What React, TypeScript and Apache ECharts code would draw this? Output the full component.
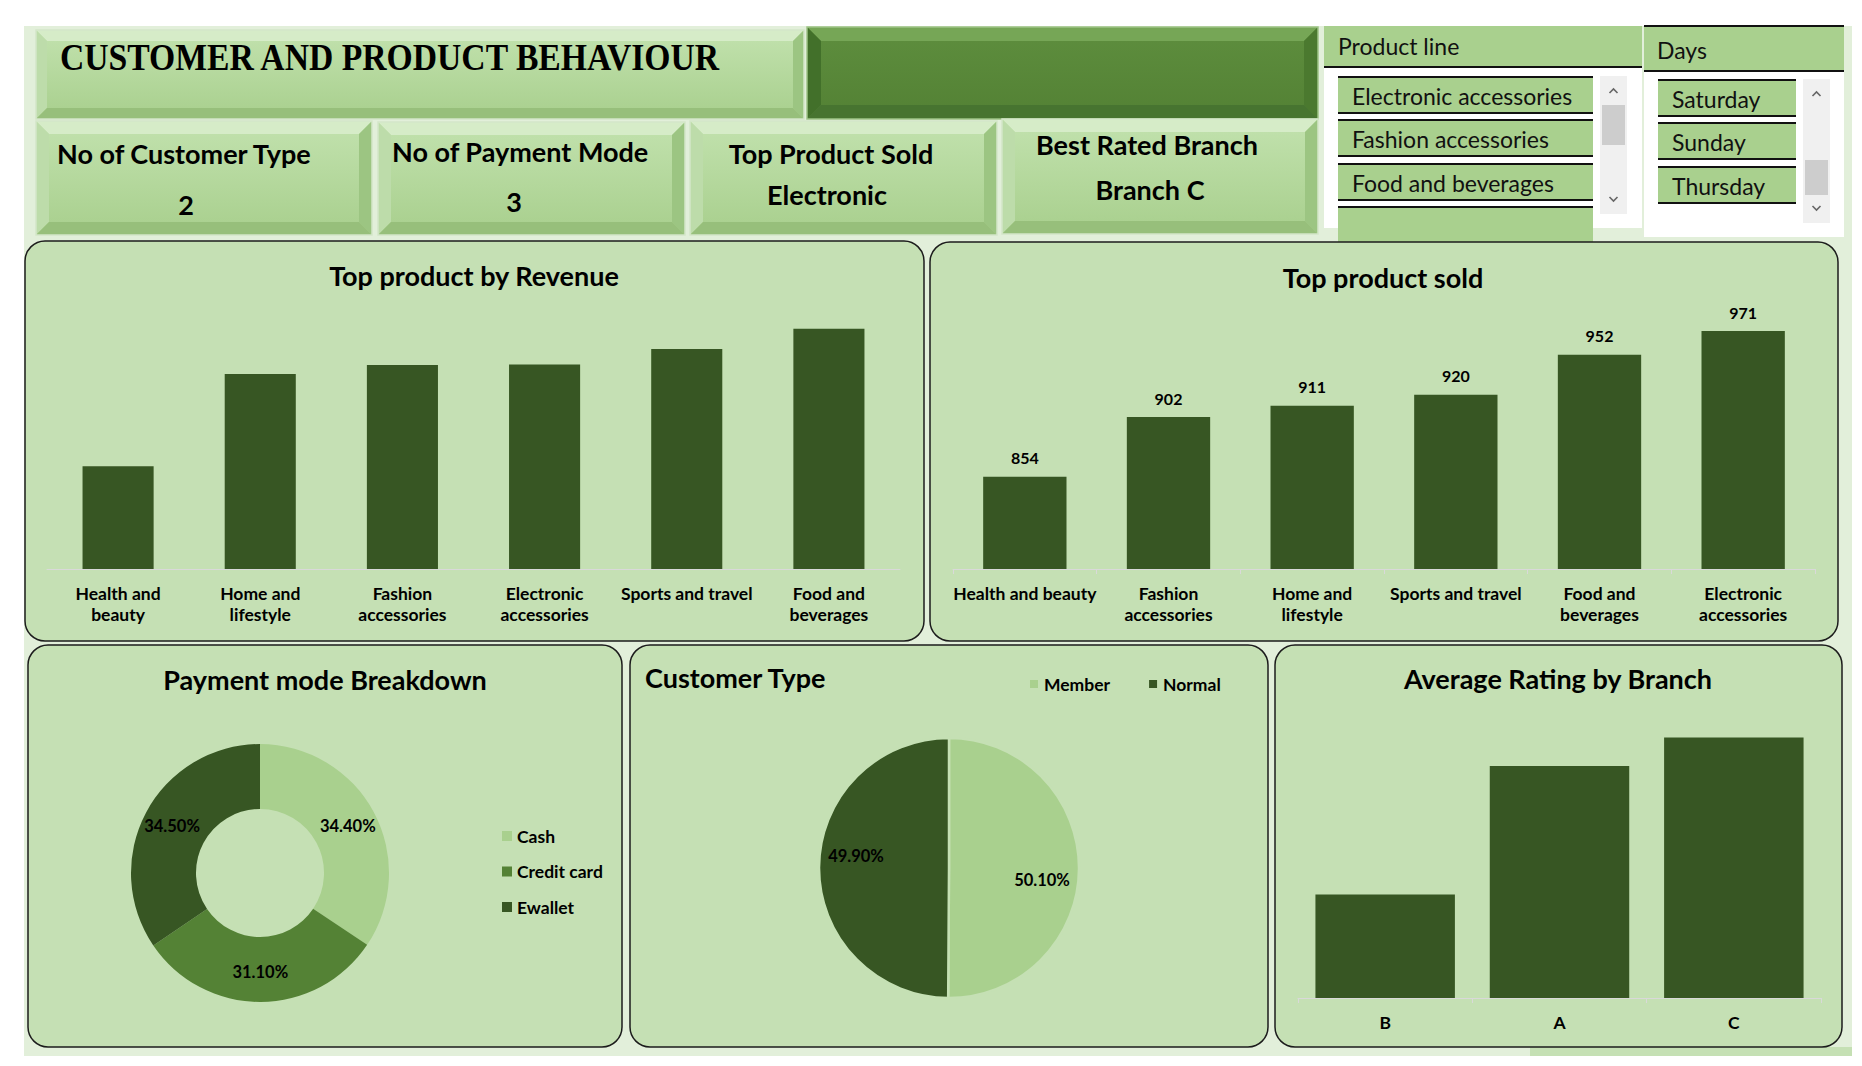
import React, { useEffect, useRef } from 'react';
import * as echarts from 'echarts';

// ---------- data ----------
const revenueCategories = ['Health and beauty', 'Home and lifestyle', 'Fashion accessories', 'Electronic accessories', 'Sports and travel', 'Food and beverages'];
const revenueValues = [49193.74, 53861.91, 54305.9, 54337.53, 55122.83, 56144.84];

const soldCategories = ['Health and beauty', 'Fashion accessories', 'Home and lifestyle', 'Sports and travel', 'Food and beverages', 'Electronic accessories'];
const soldValues = [854, 902, 911, 920, 952, 971];

const paymentNames = ['Cash', 'Credit card', 'Ewallet'];
const paymentValues = [34.4, 31.1, 34.5];

const customerNames = ['Member', 'Normal'];
const customerValues = [50.1, 49.9];

const branchCategories = ['B', 'A', 'C'];
const branchValues = [6.818, 7.027, 7.073];

const productLineItems = ['Electronic accessories', 'Fashion accessories', 'Food and beverages', ''];
const dayItems = ['Saturday', 'Sunday', 'Thursday'];

const kpiTitles = ['No of Customer Type', 'No of Payment Mode', 'Top Product Sold', 'Best Rated Branch'];
const kpiValues = ['2', '3', 'Electronic', 'Branch C'];

// ---------- styles ----------
const FONT = 'Lato, "Open Sans", sans-serif';
const DARK = '#375623';
const MID = '#548235';
const LIGHT = '#a9d08e';
const PANEL = '#c5e0b4';
const PALE = '#e2efda';

const wrapLabel = (v: string, singles: string[]) => {
  if (singles.includes(v)) return v;
  const i = v.indexOf(' and ');
  if (i >= 0) return v.slice(0, i + 4) + '\n' + v.slice(i + 5);
  const j = v.indexOf(' ');
  return j >= 0 ? v.slice(0, j) + '\n' + v.slice(j + 1) : v;
};

const lin = (c1: string, c2: string) => ({
  type: 'linear', x: 0, y: 0, x2: 0, y2: 1,
  colorStops: [{ offset: 0, color: c1 }, { offset: 1, color: c2 }],
});

type Scheme = { top: string; left: string; right: string; bottom: string; c1: string; c2: string; stroke: string };
const lightScheme: Scheme = { top: '#d6ecc8', left: '#bddcaa', right: '#9cc582', bottom: '#97bf7b', c1: '#c2e2ae', c2: '#a8cf8d', stroke: '#d4e6c9' };
const darkScheme: Scheme = { top: '#76a656', left: '#42702a', right: '#4b792f', bottom: '#477430', c1: '#5e8e3e', c2: '#538134', stroke: '#9ec486' };

function bevel(x: number, y: number, w: number, h: number, b: number, s: Scheme) {
  return [
    { type: 'rect', shape: { x, y, width: w, height: h }, style: { fill: lin(s.c1, s.c2) } },
    { type: 'polygon', shape: { points: [[x, y], [x + w, y], [x + w - b, y + b], [x + b, y + b]] }, style: { fill: s.top } },
    { type: 'polygon', shape: { points: [[x, y], [x + b, y + b], [x + b, y + h - b], [x, y + h]] }, style: { fill: s.left } },
    { type: 'polygon', shape: { points: [[x + w, y], [x + w, y + h], [x + w - b, y + h - b], [x + w - b, y + b]] }, style: { fill: s.right } },
    { type: 'polygon', shape: { points: [[x, y + h], [x + b, y + h - b], [x + w - b, y + h - b], [x + w, y + h]] }, style: { fill: s.bottom } },
    { type: 'rect', shape: { x, y, width: w, height: h }, style: { fill: 'none', stroke: s.stroke, lineWidth: 1.5 } },
  ];
}

function txt(x: number, y: number, text: string, size: number, opts: any = {}) {
  return {
    type: 'text', x, y,
    style: {
      text, fontSize: size, fontWeight: opts.weight ?? 'bold', fontFamily: opts.family ?? FONT,
      fill: opts.fill ?? '#000', align: opts.align ?? 'center', verticalAlign: 'middle',
    },
    scaleX: opts.scaleX ?? 1,
    originX: x, originY: y,
  };
}

function panel(x: number, y: number, w: number, h: number) {
  return { type: 'rect', shape: { x, y, width: w, height: h, r: 20 }, style: { fill: PANEL, stroke: '#1c1c1c', lineWidth: 1.5 } };
}

function slicerItem(x: number, y: number, w: number, h: number, label: string) {
  return [
    { type: 'rect', shape: { x, y, width: w, height: h }, style: { fill: LIGHT } },
    { type: 'line', shape: { x1: x, y1: y, x2: x + w, y2: y }, style: { stroke: '#111', lineWidth: 2 } },
    { type: 'line', shape: { x1: x, y1: y + h, x2: x + w, y2: y + h }, style: { stroke: '#111', lineWidth: 2 } },
    txt(x + 14, y + h / 2 + 1, label, 23, { weight: 'normal', align: 'left', fill: '#111' }),
  ];
}

function scrollbar(x: number, y: number, w: number, h: number, ty: number, th: number) {
  const cx = x + w / 2;
  return [
    { type: 'rect', shape: { x, y, width: w, height: h }, style: { fill: '#f0f0f0' } },
    { type: 'rect', shape: { x: x + 2, y: ty, width: w - 4, height: th }, style: { fill: '#cdcdcd' } },
    { type: 'polyline', shape: { points: [[cx - 4, y + 17], [cx, y + 13], [cx + 4, y + 17]] }, style: { stroke: '#666', lineWidth: 1.6, fill: 'none' } },
    { type: 'polyline', shape: { points: [[cx - 4, y + h - 17], [cx, y + h - 13], [cx + 4, y + h - 17]] }, style: { stroke: '#666', lineWidth: 1.6, fill: 'none' } },
  ];
}

function buildGraphics() {
  const g: any[] = [];
  // sheet background
  g.push({ type: 'rect', shape: { x: 24, y: 26, width: 1828, height: 1030 }, style: { fill: PALE } });
  g.push({ type: 'rect', shape: { x: 1530, y: 1047, width: 322, height: 9 }, style: { fill: PANEL } });

  // header boxes
  g.push(...bevel(36, 30, 768, 89, 11, lightScheme));
  g.push(...bevel(807, 27, 511, 92, 14, darkScheme));
  const kpiBoxes = [[36, 121, 336, 114], [378, 122, 307, 113], [690, 121, 307, 114], [1002, 119, 316, 115]];
  kpiBoxes.forEach((b) => g.push(...bevel(b[0], b[1], b[2], b[3], 13, lightScheme)));

  // product line slicer
  g.push({ type: 'rect', shape: { x: 1324, y: 26, width: 318, height: 202 }, style: { fill: '#ffffff' } });
  g.push({ type: 'rect', shape: { x: 1324, y: 26, width: 318, height: 41 }, style: { fill: LIGHT } });
  g.push({ type: 'line', shape: { x1: 1324, y1: 67, x2: 1642, y2: 67 }, style: { stroke: '#111', lineWidth: 2 } });
  g.push(txt(1338, 46, 'Product line', 23, { weight: 'normal', align: 'left', fill: '#111' }));
  const pY = [77, 120, 164, 207];
  productLineItems.forEach((it, i) => g.push(...slicerItem(1338, pY[i], 255, 36, it)));
  g.push(...scrollbar(1600, 76, 27, 138, 105, 40));

  // days slicer
  g.push({ type: 'rect', shape: { x: 1644, y: 26, width: 200, height: 211 }, style: { fill: '#ffffff' } });
  g.push({ type: 'rect', shape: { x: 1644, y: 26, width: 200, height: 45 }, style: { fill: LIGHT } });
  g.push({ type: 'line', shape: { x1: 1644, y1: 26, x2: 1844, y2: 26 }, style: { stroke: '#111', lineWidth: 2 } });
  g.push({ type: 'line', shape: { x1: 1644, y1: 71, x2: 1844, y2: 71 }, style: { stroke: '#111', lineWidth: 2 } });
  g.push(txt(1657, 50, 'Days', 23, { weight: 'normal', align: 'left', fill: '#111' }));
  const dY = [80, 123, 167];
  dayItems.forEach((it, i) => g.push(...slicerItem(1658, dY[i], 138, 36, it)));
  g.push(...scrollbar(1803, 79, 27, 144, 160, 35));

  // panels
  g.push(panel(25, 241, 899, 400));
  g.push(panel(930, 242, 908, 399));
  g.push(panel(28, 645, 594, 402));
  g.push(panel(630, 645, 638, 402));
  g.push(panel(1275, 645, 567, 402));

  // header texts
  g.push(txt(55, 57, 'CUSTOMER AND PRODUCT BEHAVIOUR', 37, { family: '"Liberation Serif", "Times New Roman", serif', align: 'left', scaleX: 0.91 }));
  const kpiTitlePos = [[57, 153, 'left'], [392, 151, 'left'], [831, 153, 'center'], [1147, 144, 'center']];
  const kpiValuePos = [[186, 204], [514, 201], [827, 194], [1150, 189]];
  kpiTitles.forEach((t, i) => {
    const p = kpiTitlePos[i];
    g.push(txt(p[0] as number, p[1] as number, t, 27, { align: p[2] }));
    g.push(txt(kpiValuePos[i][0], kpiValuePos[i][1], kpiValues[i], 27));
  });

  // chart titles
  g.push(txt(474, 275, 'Top product by Revenue', 27));
  g.push(txt(1383, 277, 'Top product sold', 27));
  g.push(txt(325, 679, 'Payment mode Breakdown', 27));
  g.push(txt(645, 677, 'Customer Type', 27, { align: 'left' }));
  g.push(txt(1558, 678, 'Average Rating by Branch', 27));
  return g;
}

const axisLabelStyle = { color: '#000', fontFamily: FONT, fontWeight: 'bold', fontSize: 17.5, lineHeight: 21 };
const legendText = { color: '#000', fontFamily: FONT, fontWeight: 'bold', fontSize: 17.5, lineHeight: 18 };
const pieLabelText = { color: '#000', fontFamily: FONT, fontWeight: 'bold', fontSize: 16.5 };

function buildOption(): any {
  return {
    animation: false,
    backgroundColor: '#ffffff',
    graphic: { elements: buildGraphics() },
    grid: [
      { left: 47, top: 292, width: 853, height: 277 },
      { left: 953, top: 295, width: 862, height: 274 },
      { left: 1298, top: 721, width: 523, height: 277 },
    ],
    xAxis: [
      {
        type: 'category', gridIndex: 0, data: revenueCategories,
        axisLine: { lineStyle: { color: '#d9d9d9', width: 1 } }, axisTick: { show: false },
        axisLabel: { ...axisLabelStyle, margin: 14, interval: 0, formatter: (v: string) => wrapLabel(v, ['Sports and travel']) },
      },
      {
        type: 'category', gridIndex: 1, data: soldCategories,
        axisLine: { lineStyle: { color: '#d9d9d9', width: 1 } }, axisTick: { show: true, length: 5, lineStyle: { color: '#d9d9d9' } },
        axisLabel: { ...axisLabelStyle, margin: 14, interval: 0, formatter: (v: string) => wrapLabel(v, ['Sports and travel', 'Health and beauty']) },
      },
      {
        type: 'category', gridIndex: 2, data: branchCategories,
        axisLine: { lineStyle: { color: '#d9d9d9', width: 1 } }, axisTick: { show: true, length: 5, lineStyle: { color: '#d9d9d9' } },
        axisLabel: { ...axisLabelStyle, margin: 14 },
      },
    ],
    yAxis: [
      { type: 'value', gridIndex: 0, min: 44000, max: 58000, show: false, splitLine: { show: false } },
      { type: 'value', gridIndex: 1, min: 780, max: 1000, show: false, splitLine: { show: false } },
      { type: 'value', gridIndex: 2, min: 6.65, max: 7.1, show: false, splitLine: { show: false } },
    ],
    legend: [
      {
        orient: 'vertical', left: 497, top: 822, padding: 5, itemWidth: 10, itemHeight: 10, itemGap: 17.5, icon: 'rect',
        data: paymentNames.map((n, i) => ({ name: n, itemStyle: { color: [LIGHT, MID, DARK][i] } })),
        textStyle: legendText, selectedMode: false,
      },
      {
        orient: 'horizontal', left: 1023, top: 670, padding: 5, itemWidth: 10, itemHeight: 10, itemGap: 37, icon: 'rect',
        data: customerNames.map((n, i) => ({ name: n, itemStyle: { color: [LIGHT, DARK][i] } })),
        textStyle: legendText, selectedMode: false,
      },
    ],
    series: [
      {
        type: 'bar', xAxisIndex: 0, yAxisIndex: 0, data: revenueValues, barWidth: '50%',
        itemStyle: { color: DARK },
      },
      {
        type: 'bar', xAxisIndex: 1, yAxisIndex: 1, data: soldValues, barWidth: '58%',
        itemStyle: { color: DARK },
        label: { show: true, position: 'top', distance: 11, color: '#000', fontFamily: FONT, fontWeight: 'bold', fontSize: 16 },
      },
      {
        type: 'bar', xAxisIndex: 2, yAxisIndex: 2, data: branchValues, barWidth: '80%',
        itemStyle: { color: DARK },
      },
      {
        type: 'pie', center: [260, 873], radius: [64, 129], startAngle: 90, clockwise: true,
        data: paymentNames.map((n, i) => ({ name: n, value: paymentValues[i], itemStyle: { color: [LIGHT, MID, DARK][i] } })),
        label: { show: true, position: 'inside', ...pieLabelText, formatter: (p: any) => p.value.toFixed(2) + '%' },
        labelLine: { show: false }, emphasis: { disabled: true },
      },
      {
        type: 'pie', center: [949, 868], radius: [0, 130], startAngle: 90, clockwise: true,
        data: customerNames.map((n, i) => ({ name: n, value: customerValues[i], itemStyle: { color: [LIGHT, DARK][i] } })),
        itemStyle: { borderColor: PANEL, borderWidth: 2.5 },
        label: { show: false }, labelLine: { show: false }, emphasis: { disabled: true },
      },
      {
        type: 'pie', center: [949, 868], radius: [50, 130], startAngle: 90, clockwise: true, silent: true,
        data: customerNames.map((n, i) => ({ name: n, value: customerValues[i] })),
        itemStyle: { color: 'rgba(0,0,0,0)', borderWidth: 0 },
        label: {
          show: true, position: 'inside', ...pieLabelText, lineHeight: 24,
          formatter: (p: any) => (p.dataIndex === 0 ? '\n' : '') + p.value.toFixed(2) + '%' + (p.dataIndex === 1 ? '\n ' : ''),
        },
        labelLine: { show: false }, emphasis: { disabled: true }, legendHoverLink: false,
      },
    ],
  };
}

export default function App() {
  const ref = useRef<HTMLDivElement>(null);
  useEffect(() => {
    const chart = echarts.init(ref.current as HTMLDivElement, null, { renderer: 'svg', width: 1862, height: 1066 });
    chart.setOption(buildOption());
    return () => chart.dispose();
  }, []);
  return <div ref={ref} style={{ position: 'absolute', left: 0, top: 0, width: 1862, height: 1066 }} />;
}
